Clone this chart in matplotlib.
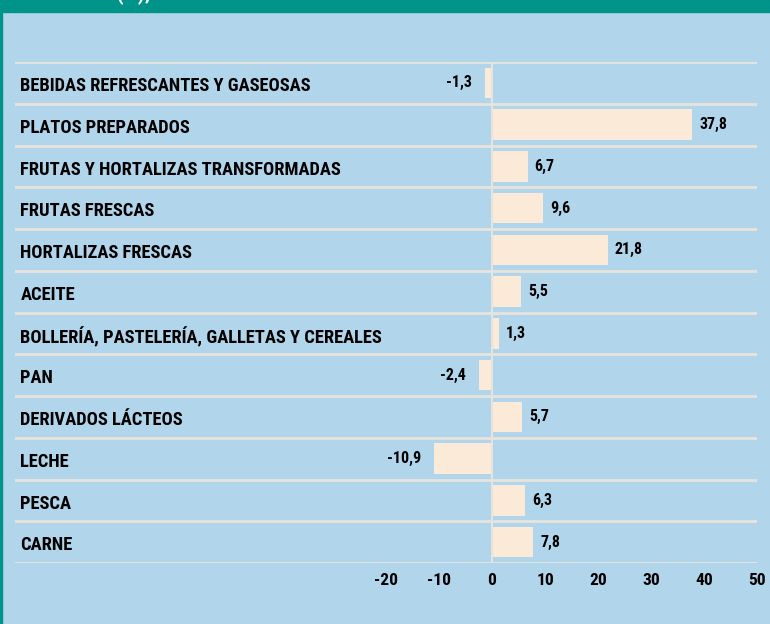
import matplotlib.pyplot as plt
from matplotlib.patches import Rectangle
from matplotlib import font_manager

# Datos (de arriba a abajo)
categorias = ['BEBIDAS REFRESCANTES Y GASEOSAS', 'PLATOS PREPARADOS',
              'FRUTAS Y HORTALIZAS TRANSFORMADAS', 'FRUTAS FRESCAS',
              'HORTALIZAS FRESCAS', 'ACEITE',
              'BOLLERÍA, PASTELERÍA, GALLETAS Y CEREALES', 'PAN',
              'DERIVADOS LÁCTEOS', 'LECHE', 'PESCA', 'CARNE']
valores = [-1.3, 37.8, 6.7, 9.6, 21.8, 5.5, 1.3, -2.4, 5.7, -10.9, 6.3, 7.8]
ticks = [-20, -10, 0, 10, 20, 30, 40, 50]

fondo = '#B1D5EA'
verde = '#00938A'
color_barra = '#FBEAD8'
linea = '#E7E3DD'

# buscar una fuente estrecha en negrita
preferidas = ['Roboto Condensed', 'Archivo Narrow', 'PT Sans Narrow', 'Liberation Sans Narrow',
              'Fira Sans Condensed', 'IBM Plex Sans Condensed', 'Barlow Condensed',
              'Encode Sans Condensed', 'Open Sans Condensed', 'Asap Condensed']
negritas = {f.name for f in font_manager.fontManager.ttflist
            if (f.weight if isinstance(f.weight, int) else 700 if f.weight == 'bold' else 400) >= 700}
elegida = next((p for p in preferidas if p in negritas), 'DejaVu Sans')
fuente = [elegida, 'DejaVu Sans']

fig = plt.figure(figsize=(7.7, 6.24), dpi=100, facecolor=fondo)
# banda superior y borde izquierdo
fig.patches.append(Rectangle((0, 1 - 12 / 624), 1, 12 / 624, transform=fig.transFigure,
                             color=verde, zorder=0))
fig.patches.append(Rectangle((0, 0), 2 / 770, 1, transform=fig.transFigure,
                             color=verde, zorder=0))
fig.text(0.01, 1 - 4 / 624, 'VARIACIÓN (%), 2020', color='white', fontsize=16,
         fontweight='bold', family=fuente, va='bottom')

ax = fig.add_axes([15 / 770, 1 - 563 / 624, 742 / 770, 501 / 624])
ax.set_facecolor(fondo)
n = len(categorias)
y = list(range(n - 1, -1, -1))
ax.barh(y, valores, height=0.73, color=color_barra, zorder=2)

for k in range(n + 1):
    ax.axhline(k - 0.5, color=linea, lw=2, zorder=1)
ax.axvline(0, color=linea, lw=1.5, zorder=3)

for yi, cat, v in zip(y, categorias, valores):
    ax.text(-89, yi - 0.08, cat, ha='left', va='center', fontsize=13.3,
            fontweight='bold', family=fuente)
    etiqueta = f'{v:.1f}'.replace('.', ',')
    if v >= 0:
        ax.text(v + 1.3, yi, etiqueta, ha='left', va='center',
                fontsize=11.5, fontweight='bold', family=fuente)
    else:
        ax.text(v - 2.5, yi, etiqueta, ha='right', va='center',
                fontsize=11.5, fontweight='bold', family=fuente)

ax.set_xlim(-90, 50)
ax.set_ylim(-0.5, n - 0.5)
ax.set_xticks(ticks)
ax.set_xticklabels([str(t) for t in ticks], fontsize=12.5, fontweight='bold',
                   family=fuente)
ax.tick_params(axis='x', length=0, pad=7)
ax.set_yticks([])
for s in ax.spines.values():
    s.set_visible(False)

fig.savefig('out.png', dpi=100, facecolor=fondo)
